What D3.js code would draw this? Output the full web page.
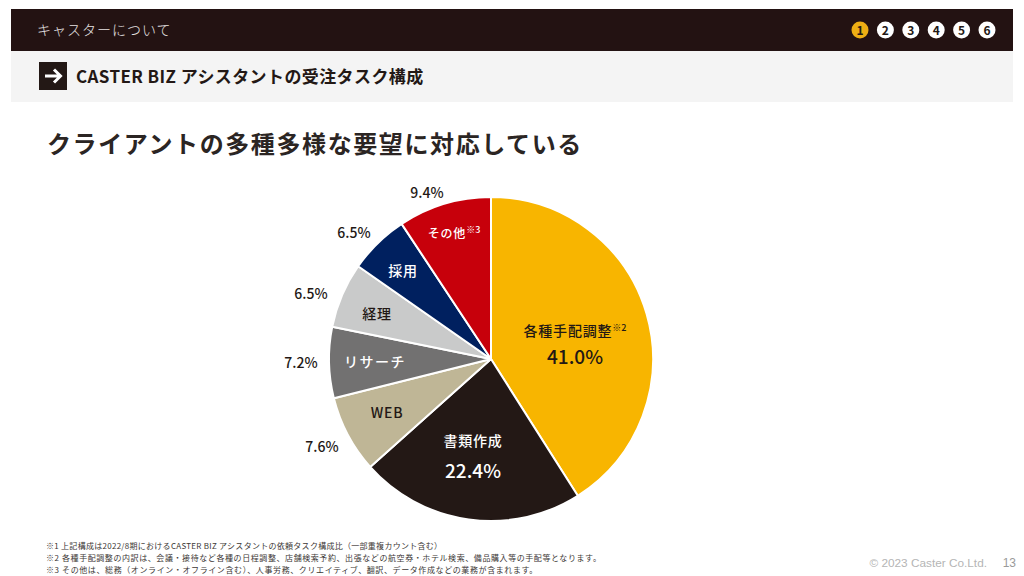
<!DOCTYPE html>
<html lang="ja">
<head>
<meta charset="utf-8">
<script src="https://cdn.jsdelivr.net/npm/d3@7"></script>
<style>
  html, body { margin: 0; padding: 0; background: #fff; }
  svg { display: block; }
  text { font-family: "Noto Sans CJK JP", "Noto Sans", sans-serif; }
</style>
</head>
<body>
<div id="chart"></div>
<script>
// data
const categories = ["各種手配調整", "書類作成", "WEB", "リサーチ", "経理", "採用", "その他"];
const shares = [41.0, 22.4, 7.6, 7.2, 6.5, 6.5, 9.4];
// slice sizes as measured on the picture, they differ a little from the printed figures
const sliceSizes = [41.0, 22.4, 7.7, 7.1, 6.5, 6.0, 9.3];
const notes = ["※2", "", "", "", "", "", "※3"];
const navNumbers = ["1", "2", "3", "4", "5", "6"];
const footnotes = [
  "※1 上記構成は2022/8期におけるCASTER BIZ アシスタントの依頼タスク構成比（一部重複カウント含む）",
  "※2  各種手配調整の内訳は、会議・接待など各種の日程調整、店舗検索予約、出張などの航空券・ホテル検索、備品購入等の手配等となります。",
  "※3 その他は、総務（オンライン・オフライン含む）、人事労務、クリエイティブ、翻訳、データ作成などの業務が含まれます。"
];

const sliceColors = ["#f8b500", "#231815", "#bfb696", "#727171", "#c9caca", "#00205f", "#c7000b"];
const nameColors = ["#231815", "#fff", "#231815", "#fff", "#231815", "#fff", "#fff"];

// label placement, relative to pie centre: [dx, dy]
const nameAt = [[84, -29], [-18, 81], [-104, 53], [-116, 2], [-114, -46], [-88, -89], [-37, -127]];
const valueAt = [[84, -4], [-18, 110], [-169, 87], [-190, 3], [-180, -66], [-137, -127], [-64, -167]];
const footnoteSpacing = [0.28, 0.58, 0.6];

const width = 1024, height = 576;
const cx = 491, cy = 359, radius = 162;
const dark = "#231815";

const svg = d3.select("#chart").append("svg")
  .attr("width", width)
  .attr("height", height)
  .attr("viewBox", `0 0 ${width} ${height}`);

// header bands
svg.append("rect").attr("x", 11).attr("y", 9).attr("width", 1002).attr("height", 42).attr("fill", "#231212");
svg.append("rect").attr("x", 11).attr("y", 51).attr("width", 1002).attr("height", 51).attr("fill", "#f4f4f4");

svg.append("text")
  .attr("x", 37).attr("y", 35)
  .attr("font-size", 14)
  .attr("font-weight", 300)
  .attr("letter-spacing", 1.0)
  .attr("fill", "#e6e2e2")
  .text("キャスターについて");

// section numbers
const navX = d3.scalePoint().domain(navNumbers).range([860, 987]);
const nav = svg.append("g").selectAll("g").data(navNumbers).join("g")
  .attr("transform", d => `translate(${navX(d)},30)`);
nav.append("circle")
  .attr("r", 8.5)
  .attr("fill", (d, i) => i === 0 ? "#eeae14" : "#fff");
nav.append("text")
  .attr("text-anchor", "middle")
  .attr("y", 4.5)
  .attr("font-size", 12)
  .attr("font-weight", 700)
  .attr("fill", dark)
  .text(d => d);

// arrow box + subtitle
svg.append("rect").attr("x", 39).attr("y", 62).attr("width", 28).attr("height", 28).attr("fill", dark);
svg.append("path")
  .attr("d", "M45 76H60M54 69.5L60.5 76L54 82.5")
  .attr("fill", "none")
  .attr("stroke", "#fff")
  .attr("stroke-width", 3);
svg.append("text")
  .attr("x", 76).attr("y", 83)
  .attr("font-size", 17)
  .attr("font-weight", 700)
  .attr("letter-spacing", 0.4)
  .attr("fill", dark)
  .text("CASTER BIZ アシスタントの受注タスク構成");

svg.append("text")
  .attr("x", 47).attr("y", 153)
  .attr("font-size", 24)
  .attr("font-weight", 700)
  .attr("letter-spacing", 1.6)
  .attr("fill", "#2b2523")
  .text("クライアントの多種多様な要望に対応している");

// pie
const pie = d3.pie().sort(null).value(d => d)(sliceSizes);
const arc = d3.arc().innerRadius(0).outerRadius(radius);
const chart = svg.append("g").attr("transform", `translate(${cx},${cy})`);

chart.selectAll("path").data(pie).join("path")
  .attr("d", arc)
  .attr("fill", (d, i) => sliceColors[i])
  .attr("stroke", "#fff")
  .attr("stroke-width", 2)
  .attr("stroke-linejoin", "round");

// category names inside the slices
const names = chart.selectAll("text.name").data(categories).join("text")
  .attr("class", "name")
  .attr("x", (d, i) => nameAt[i][0])
  .attr("y", (d, i) => nameAt[i][1])
  .attr("text-anchor", "middle")
  .attr("dominant-baseline", "central")
  .attr("font-size", (d, i) => i === 6 ? 12 : 14)
  .attr("font-weight", 500)
  .attr("letter-spacing", (d, i) => i === 3 ? 1.5 : 0.8)
  .attr("fill", (d, i) => nameColors[i])
  .text(d => d);
names.filter((d, i) => notes[i] !== "").append("tspan")
  .attr("font-size", 9)
  .attr("dy", -3)
  .attr("letter-spacing", 0)
  .text(d => notes[categories.indexOf(d)]);

// percentages: the two big slices carry larger figures
chart.selectAll("text.value").data(shares).join("text")
  .attr("class", "value")
  .attr("x", (d, i) => valueAt[i][0])
  .attr("y", (d, i) => valueAt[i][1])
  .attr("text-anchor", "middle")
  .attr("dominant-baseline", "central")
  .attr("font-size", (d, i) => i < 2 ? 19 : 14)
  .attr("font-weight", 500)
  .attr("fill", (d, i) => i === 1 ? "#fff" : dark)
  .text(d => d.toFixed(1) + "%");

// footnotes
svg.append("g").selectAll("text").data(footnotes).join("text")
  .attr("x", 46)
  .attr("y", (d, i) => 549 + i * 12)
  .attr("font-size", 8)
  .attr("letter-spacing", (d, i) => footnoteSpacing[i])
  .attr("fill", "#3c3735")
  .text(d => d);

svg.append("text")
  .attr("x", 987).attr("y", 567)
  .attr("text-anchor", "end")
  .style("font-family", "'Liberation Sans', sans-serif")
  .attr("font-size", 11.8)
  .attr("fill", "#b5b5b5")
  .text("© 2023 Caster Co.Ltd.");
svg.append("text")
  .attr("x", 1016).attr("y", 567)
  .attr("text-anchor", "end")
  .style("font-family", "'Liberation Sans', sans-serif")
  .attr("font-size", 12)
  .attr("fill", "#9a9a9a")
  .text("13");
</script>
</body>
</html>
